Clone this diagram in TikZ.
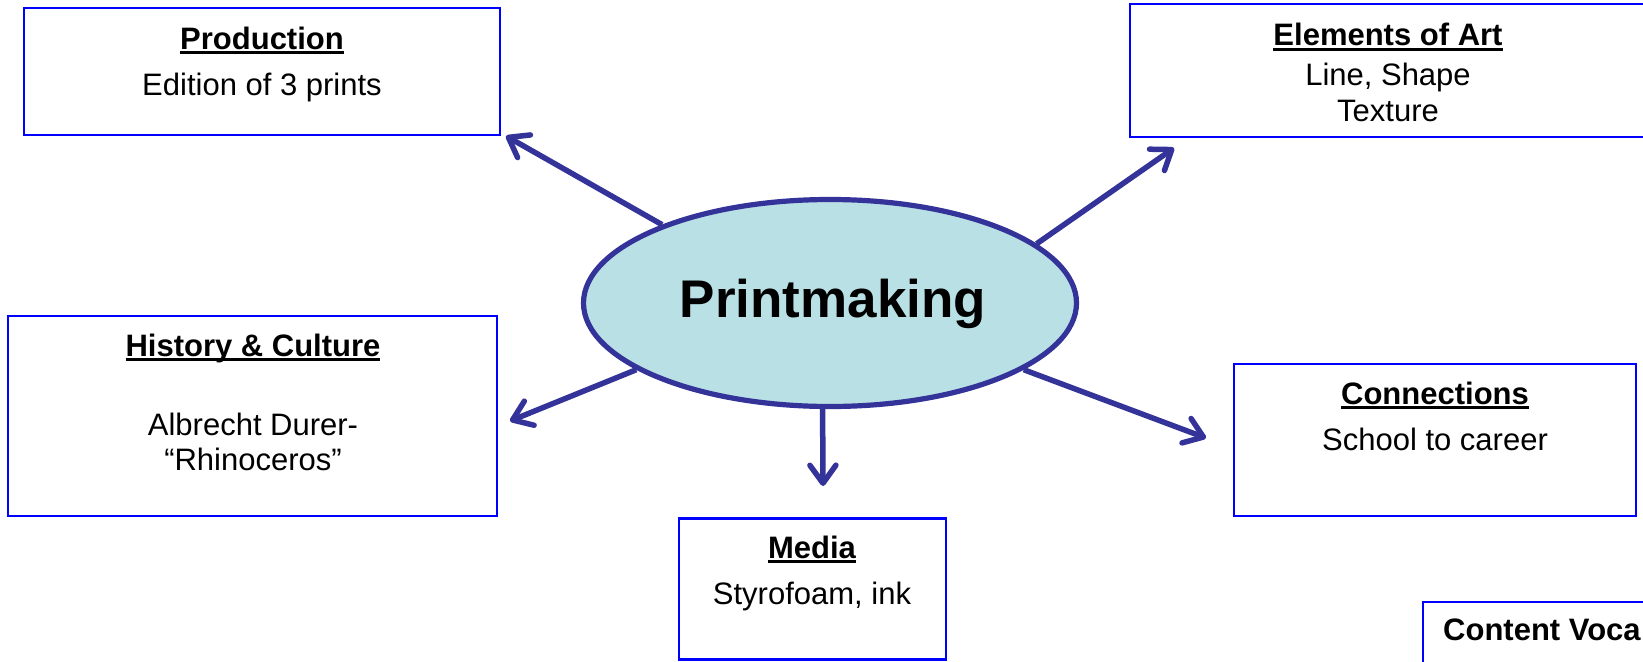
\documentclass[tikz,border=0pt]{standalone}
\usepackage{fontspec}
\setmainfont{Liberation Sans}
\usetikzlibrary{arrows.meta,shapes.geometric}
\definecolor{arrowblue}{RGB}{51,51,153}
\definecolor{ellfill}{RGB}{185,224,228}
\definecolor{boxblue}{RGB}{0,0,255}
\newcommand\myul[1]{\setbox0\hbox{#1}\rlap{\rule[-4.5pt]{\wd0}{2.4pt}}\box0}
\tikzset{
  box/.style={draw=boxblue, line width=2.2pt, rectangle, inner sep=0pt},
  txt/.style={anchor=base, inner sep=0pt, font=\fontsize{31}{36}\selectfont},
  ttl/.style={txt, font=\fontsize{31}{36}\selectfont\bfseries},
  conn/.style={draw=arrowblue, line width=5.5pt, -{Straight Barb[length=18pt,width=26pt,round]}},
}
\begin{document}
\begin{tikzpicture}[x=1pt,y=-1pt]
\useasboundingbox (0,0) rectangle (1643,661);
\clip (0,0) rectangle (1643,661);

% boxes
\node[box, minimum width=476pt, minimum height=127pt] (prod) at (262,71.5) {};
\node[box, minimum width=516pt, minimum height=133pt] (elem) at (1388,70.5) {};
\node[box, minimum width=489pt, minimum height=200pt] (hist) at (252.5,416) {};
\node[box, minimum width=402pt, minimum height=152pt] (conb) at (1435,440) {};
\node[box, minimum width=267pt, minimum height=141pt] (media) at (812.5,589) {};
\node[box, minimum width=300pt, minimum height=120pt, anchor=north west] (cont) at (1422,601) {};

% texts
\node[ttl] (prodT) at (262,49) {\myul{Production}};
\node[txt] (prodB) at (262,95) {Edition of 3 prints};
\node[ttl] (elemT) at (1388,46) {\myul{Elements of Art}};
\node[txt] (elemB1) at (1388,85) {Line, Shape};
\node[txt] (elemB2) at (1388,121) {Texture};
\node[ttl] (histT) at (253,356) {\myul{History \& Culture}};
\node[txt] (histB1) at (253,435) {Albrecht Durer-};
\node[txt] (histB2) at (253,470) {“Rhinoceros”};
\node[ttl] (conT) at (1435,404) {\myul{Connections}};
\node[txt] (conB) at (1435,450) {School to career};
\node[ttl] (medT) at (812,558) {\myul{Media}};
\node[txt] (medB) at (812,604) {Styrofoam, ink};
\node[ttl, anchor=base west] (contT) at (1443,640) {Content Voca};

% central ellipse
\node[ellipse, draw=arrowblue, fill=ellfill, line width=5.2pt, minimum width=493pt, minimum height=207pt, inner sep=0pt] (ell) at (830,303) {};
\node[anchor=base, inner sep=0pt, font=\fontsize{53}{60}\selectfont\bfseries] (ellT) at (833,317) {Printmaking};

% arrow tips
\coordinate (tP) at (506,136);
\coordinate (tE) at (1174,148);
\coordinate (tH) at (510,421);
\coordinate (tC) at (1206,438);
\coordinate (tM) at (823,486);

\draw[conn] (ell.155) -- (tP);
\draw[conn] (ell.16.7) -- (tE);
\draw[conn] (ell.199.2) -- (tH);
\draw[conn] (ell.341) -- (tC);
\draw[conn] (ell.266) -- (tM);
\end{tikzpicture}
\end{document}
